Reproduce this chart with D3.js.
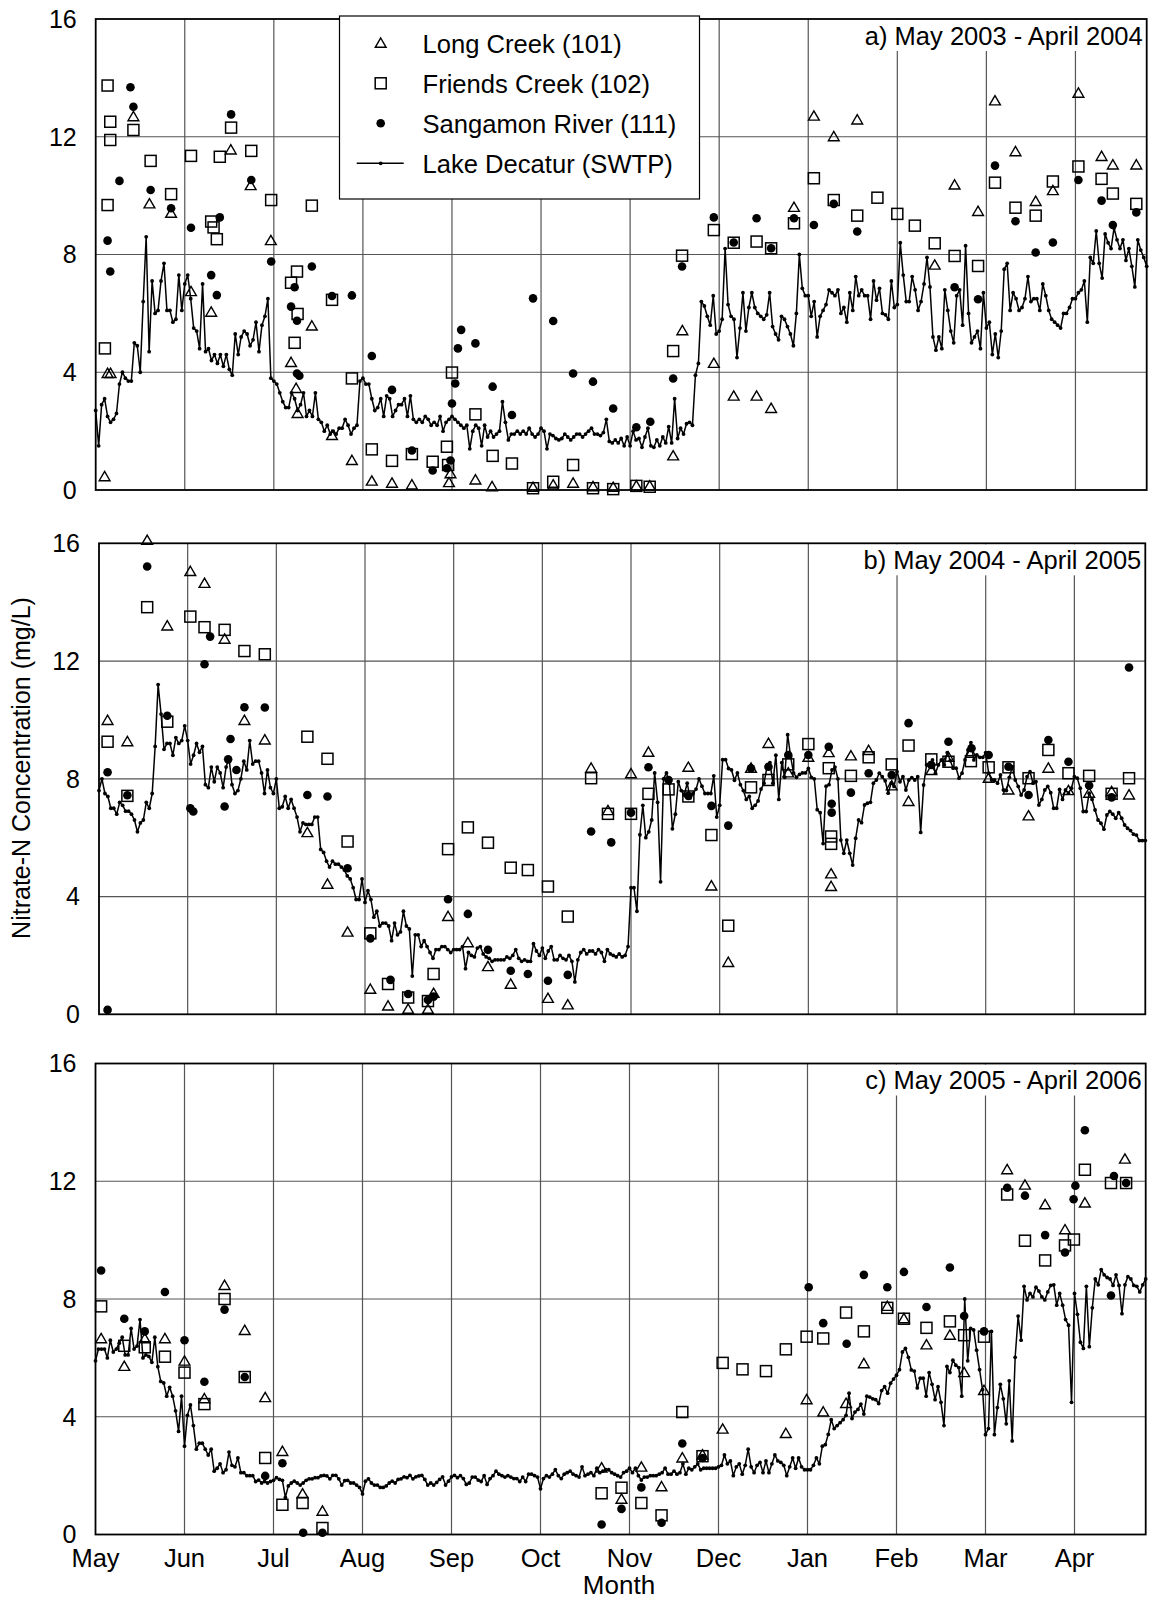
<!DOCTYPE html>
<html>
<head>
<meta charset="utf-8">
<script src="https://cdn.jsdelivr.net/npm/d3@7"></script>
<style>
body { margin: 0; background: #fff; }
text { font-family: "Liberation Sans", Arial, sans-serif; fill: #000; }
</style>
</head>
<body>
<div class="canva"></div>
<script>
// month labels, one gridline every 30 days from 1 May
const months = ['May','Jun','Jul','Aug','Sep','Oct','Nov','Dec','Jan','Feb','Mar','Apr'];
const yTicks = [0, 4, 8, 12, 16];
const titles = ['a) May 2003 - April 2004', 'b) May 2004 - April 2005', 'c) May 2005 - April 2006'];
const legendNames = ['Long Creek (101)', 'Friends Creek (102)', 'Sangamon River (111)', 'Lake Decatur (SWTP)'];

// Lake Decatur (SWTP), daily values from 1 May (index = day)
const lakeA = [
2.7,1.5,2.9,3.1,2.5,2.3,2.4,2.6,3.6,4.0,3.8,3.7,3.7,5.0,4.9,4.0,6.4,8.6,4.7,7.1,
6.0,6.1,7.1,7.7,6.1,6.1,5.7,5.8,7.3,6.1,7.0,7.3,6.5,5.5,5.4,4.8,7.0,4.7,4.8,4.4,
4.6,4.3,4.6,4.2,4.6,4.1,3.9,5.3,4.6,5.2,5.4,5.3,4.9,5.1,5.7,4.7,5.6,5.9,6.5,3.8,
3.7,3.6,3.3,3.0,2.8,2.8,3.3,3.1,2.7,2.9,3.3,2.5,2.7,2.5,3.3,2.4,2.3,2.0,2.2,1.9,
2.0,1.9,2.1,2.1,2.4,2.2,1.9,2.1,2.2,3.7,3.8,3.6,3.6,3.1,2.7,2.8,3.1,2.5,3.2,3.1,
2.5,2.7,2.9,2.9,3.1,2.5,3.2,2.4,2.3,2.4,2.3,2.5,2.4,2.2,2.3,2.2,2.5,2.0,2.3,2.4,
2.5,2.4,2.3,2.2,2.1,2.2,1.4,2.0,2.2,2.1,1.5,2.2,1.8,2.0,1.8,1.9,2.0,3.0,2.3,1.7,
1.9,1.9,2.0,1.9,2.0,1.9,2.1,1.9,1.8,1.9,2.1,2.0,1.4,1.9,1.85,1.75,1.7,1.75,1.9,1.8,
1.7,1.8,1.9,1.9,1.8,1.9,2.0,2.1,1.9,1.9,1.85,1.95,2.4,1.65,1.6,1.7,1.6,1.75,1.5,1.8,
1.5,2.0,1.7,1.75,1.45,1.8,2.1,1.5,1.45,1.7,1.5,1.8,1.6,2.15,1.6,3.1,1.75,2.1,1.9,2.25,
2.3,2.2,3.9,4.3,6.4,6.25,5.9,5.6,6.6,5.3,5.4,5.8,8.2,6.3,5.9,5.8,4.5,5.5,6.7,5.4,
6.2,6.7,6.2,6.0,5.9,5.8,5.95,6.7,5.55,5.3,5.1,5.9,5.8,5.55,5.3,4.9,6.0,
8.0,6.85,6.6,6.6,5.9,6.4,5.2,5.9,6.1,6.3,6.8,6.7,6.6,6.8,6.0,6.2,5.7,6.7,6.1,7.25,
6.6,6.8,6.6,6.6,5.8,7.1,6.45,6.85,6.0,5.95,5.8,7.1,6.2,6.3,8.4,7.3,6.4,6.4,7.25,6.8,
6.1,6.4,7.0,7.9,6.9,5.2,4.75,5.2,4.8,6.8,6.1,5.4,5.0,6.6,6.8,5.6,8.3,6.0,5.0,5.2,
5.4,4.8,6.7,5.5,5.7,4.6,5.3,4.5,5.4,7.5,7.7,6.1,6.7,6.5,6.1,6.2,6.5,7.25,6.4,6.5,
6.5,6.1,7.0,6.6,6.1,5.8,5.7,5.6,5.5,6.0,6.0,6.2,6.5,6.5,6.7,6.8,7.1,5.7,7.9,7.7,
8.8,7.7,7.2,8.7,8.4,8.2,8.9,8.5,8.2,8.5,7.8,8.2,7.6,6.9,8.5,8.15,7.9,7.6
];
const lakeB = [
7.6,8.0,7.5,7.4,7.0,7.0,6.8,7.2,7.1,6.9,6.9,6.8,6.6,6.2,6.5,6.6,7.2,7.0,7.5,9.1,
11.2,10.2,9.0,9.2,9.2,8.8,9.4,9.2,9.3,9.8,9.3,8.5,8.8,9.2,8.9,9.1,7.8,7.7,8.4,7.9,
8.4,8.2,7.7,8.4,8.7,7.8,7.5,7.6,8.0,8.6,8.3,9.3,8.5,8.6,8.6,8.2,7.5,8.3,7.7,7.5,
8.0,7.0,7.05,7.4,7.0,7.3,7.0,6.7,6.2,6.5,6.45,6.45,6.45,6.7,6.7,5.6,5.5,5.2,5.0,5.2,
5.1,5.1,5.0,4.9,4.7,4.6,4.3,3.9,3.9,4.6,3.8,4.2,3.9,3.3,3.5,3.0,3.1,3.1,3.0,2.5,
3.1,2.7,2.8,3.5,3.0,2.9,1.3,2.7,2.7,2.3,2.5,2.3,2.1,1.9,2.2,2.2,2.3,2.3,2.2,2.1,
2.2,2.2,2.2,2.3,1.55,2.1,2.0,1.95,2.25,2.3,2.05,1.95,1.9,1.8,1.85,1.85,1.85,1.85,1.95,1.9,
2.0,2.2,1.9,1.8,1.85,1.8,1.8,2.4,2.15,2.0,2.25,1.9,2.15,2.3,1.85,1.85,2.0,1.9,1.85,2.0,
1.8,1.1,1.85,2.1,2.2,2.05,2.15,2.15,2.05,2.2,2.1,1.8,2.2,2.05,2.0,1.95,2.05,1.95,2.0,2.3,
4.3,4.3,3.5,6.1,7.1,6.0,6.2,6.6,8.2,7.2,4.5,8.0,8.2,7.85,6.3,6.8,7.9,7.6,7.45,7.85,
7.35,7.5,7.65,8.0,7.75,7.5,7.5,7.5,8.1,6.7,7.1,8.65,8.65,8.35,8.3,7.95,8.2,7.8,7.6,7.3,
7.4,7.0,7.1,7.25,7.65,7.85,8.4,8.55,7.85,8.8,7.3,8.55,8.05,9.5,8.75,8.2,8.05,8.15,8.2,8.2,
8.35,8.05,8.0,6.95,6.85,5.8,7.75,7.8,8.3,8.4,8.0,
5.92,5.47,5.92,5.47,5.07,5.98,6.6,6.51,7.11,7.17,7.2,7.85,7.96,8.19,8.07,7.93,7.51,7.85,7.74,8.24,
7.9,8.07,7.62,7.96,8.04,7.96,8.07,6.18,7.79,8.47,8.53,8.64,8.19,8.47,8.64,8.47,8.89,8.62,8.36,8.36,
8.02,8.19,8.64,8.98,9.23,8.64,8.81,8.73,8.73,8.89,8.19,7.96,7.96,7.85,8.13,7.62,7.6,8.05,8.41,7.96,
7.74,7.45,7.62,8.07,8.24,7.85,7.9,7.11,7.3,7.62,7.74,7.53,7.0,7.0,7.64,7.3,7.62,7.51,7.68,8.07,
8.02,7.68,6.89,6.89,7.51,7.3,6.94,6.6,6.49,6.29,6.77,6.89,6.8,6.66,6.85,6.66,6.43,6.32,6.24,6.12,
6.09,5.9,5.9,5.9
];
const lakeC = [
5.9,6.3,6.3,6.3,6.0,6.6,6.2,6.3,6.5,6.7,6.1,6.1,7.0,6.3,6.4,7.3,6.0,6.1,6.05,5.85,
6.7,5.7,5.2,5.15,4.7,5.0,4.7,4.2,3.5,4.7,3.0,4.05,4.4,3.7,2.9,3.1,3.1,2.9,2.7,2.9,
2.15,2.25,2.4,2.1,2.2,2.8,2.35,2.3,2.6,2.1,2.1,2.0,2.0,2.0,1.8,1.85,1.75,1.8,1.75,1.8,
1.84,1.93,1.87,1.84,1.26,1.65,1.75,1.81,1.75,1.68,1.75,1.84,1.89,1.89,1.93,1.93,1.99,2.01,1.99,1.89,
2.01,2.01,1.89,1.68,1.83,1.84,1.75,1.75,1.68,1.6,1.38,1.81,1.89,1.75,1.68,1.68,1.6,1.6,1.65,1.75,
1.81,1.75,1.87,1.89,1.96,1.93,2.01,1.89,1.96,1.99,2.01,1.87,1.68,1.75,1.68,1.77,1.87,1.96,1.68,1.81,
1.96,2.01,1.93,
2.0,1.9,1.7,1.75,1.95,1.95,1.85,1.8,2.0,1.7,1.9,2.0,2.15,2.05,2.0,1.95,2.0,1.95,1.9,1.9,
1.8,1.95,1.8,2.05,2.05,2.0,1.95,1.55,1.9,2.0,1.95,2.05,2.2,2.0,1.9,2.05,2.1,2.15,2.05,2.0,
1.95,2.3,2.0,2.05,2.1,2.0,2.25,2.1,2.15,2.2,2.2,2.1,2.05,2.0,1.95,2.1,2.15,2.25,2.1,2.25,
2.0,1.85,1.95,1.95,2.0,2.0,2.0,2.05,2.1,2.25,2.05,2.05,2.15,2.05,2.1,2.4,2.05,2.25,2.2,2.3,
2.4,2.2,2.25,2.25,2.25,2.25,2.25,2.3,2.35,2.7,2.4,2.5,2.0,2.3,2.4,2.05,2.35,2.9,2.3,2.1,
2.35,2.45,2.1,2.5,2.1,2.4,2.7,2.5,2.45,2.35,2.0,2.3,2.6,2.25,2.6,2.3,2.2,2.2,2.2,2.35,
2.6,2.4,3.0,3.05,3.4,3.9,3.6,3.7,3.8,3.9,4.05,
4.8,3.94,4.16,4.25,4.43,4.09,4.7,4.67,4.61,4.58,4.45,4.89,5.02,4.8,5.14,5.28,5.41,5.6,6.2,6.32,
6.02,5.59,5.55,4.98,5.31,5.31,4.7,5.5,5.1,4.58,5.02,4.49,3.7,5.71,5.5,5.92,5.75,5.67,4.7,8.0,
5.9,7.0,6.95,6.26,5.6,4.92,3.39,3.6,6.9,3.39,4.31,5.1,4.61,3.76,5.22,3.18,6.02,7.42,6.6,8.43,
7.97,8.19,8.07,8.4,8.27,8.07,7.97,8.24,8.46,8.48,7.79,8.19,7.79,7.3,7.11,4.49,8.19,7.48,6.53,6.32,
8.43,6.38,7.7,8.68,8.48,9.0,8.82,8.73,8.68,8.46,8.82,8.46,7.5,8.48,8.76,8.68,8.46,8.43,8.24,8.48,
8.68
];

// grab samples [day from 1 May, mg/L]
const longA = [[3,0.45],[4,3.96],[5,3.96],[12.7,12.68],[18.1,9.72],[25.4,9.4],[32.1,6.74],[38.9,6.04],[45.5,11.55],[52.2,10.34],[59,8.47],[65.8,4.33],[67.5,3.45],[68,2.6],[72.8,5.57],[79.6,1.85],[86.3,1.0],[93,0.3],[99.8,0.23],[106.5,0.17],[119,0.25],[119.5,0.55],[127.9,0.34],[133.5,0.11],[147.3,0.09],[154.1,0.17],[160.8,0.23],[167.5,0.11],[174.3,0.09],[182.1,0.14],[186.6,0.14],[194.5,1.16],[197.6,5.41],[208.2,4.3],[214.9,3.19],[222.6,3.19],[227.5,2.77],[235.2,9.6],[241.9,12.7],[248.6,12.0],[256.5,12.57],[282.6,7.64],[289.3,10.36],[297.2,9.46],[302.9,13.22],[309.8,11.49],[316.6,9.8],[322.4,10.17],[331,13.48],[338.8,11.33],[342.6,11.04],[350.5,11.04]];
const friendsA = [[3.1,4.81],[4,9.68],[4,13.74],[4.9,12.51],[4.9,11.89],[12.7,12.23],[18.5,11.18],[25.4,10.05],[32.1,11.35],[38.9,9.12],[39.7,8.92],[40.8,8.52],[41.8,11.32],[45.6,12.31],[52.4,11.52],[59.1,9.85],[65.8,7.04],[67.8,7.42],[68,5.98],[67,5.0],[72.8,9.66],[79.6,6.46],[86.3,3.79],[93,1.38],[99.8,0.99],[106.5,1.22],[113.5,0.96],[118.3,1.47],[118.7,0.85],[120,3.99],[127.9,2.57],[133.7,1.16],[140.2,0.9],[147.3,0.06],[154.1,0.28],[160.8,0.85],[167.5,0.06],[174.3,0.03],[182.1,0.14],[186.6,0.11],[194.5,4.72],[197.5,7.96],[208.2,8.83],[214.9,8.4],[222.6,8.44],[227.5,8.21],[235.2,9.06],[241.9,10.59],[248.6,9.85],[256.5,9.32],[263.3,9.93],[270,9.38],[275.9,8.98],[282.6,8.38],[289.3,7.95],[297.2,7.61],[302.9,10.44],[309.8,9.59],[316.6,9.32],[322.4,10.48],[331,10.99],[338.8,10.57],[342.6,10.07],[350.5,9.72]];
const sangA = [[4,8.47],[4.9,7.42],[8,10.5],[11.7,13.68],[12.7,13.02],[18.5,10.19],[25.4,9.57],[32.1,8.91],[38.9,7.3],[40.8,6.62],[41.8,9.26],[45.6,12.76],[52.4,10.53],[59.1,7.76],[65.8,6.23],[67,6.89],[67.8,5.75],[67.8,3.96],[68.6,3.88],[72.8,7.59],[79.6,6.59],[86.3,6.61],[93,4.55],[99.8,3.4],[106.5,1.34],[113.5,0.66],[118.3,0.74],[119.5,1.0],[120,2.94],[121.1,3.62],[122,4.81],[123.1,5.44],[127.9,4.98],[133.7,3.51],[140.2,2.55],[147.3,6.51],[154.1,5.74],[160.8,3.96],[167.5,3.68],[174.3,2.77],[182.1,2.13],[186.8,2.32],[194.5,3.79],[197.5,7.59],[208.2,9.26],[214.9,8.41],[222.6,9.23],[227.5,8.21],[235.2,9.23],[241.9,9.0],[248.6,9.72],[256.5,8.78],[289.3,6.89],[297.2,6.48],[302.9,11.02],[309.8,9.13],[316.6,8.07],[322.4,8.41],[331,10.53],[338.8,9.83],[342.6,9.0],[350.5,9.43]];

const longB = [[2.9,9.98],[9.6,9.26],[16.3,16.1],[23.1,13.19],[30.9,15.04],[35.7,14.64],[42.5,12.74],[49.2,9.98],[56.1,9.32],[70.5,6.17],[77.3,4.42],[84.1,2.79],[91.8,0.85],[97.8,0.28],[104.6,0.17],[111.3,0.17],[113.2,0.71],[118.1,3.32],[124.8,2.43],[131.6,1.62],[139.3,1.02],[151.9,0.54],[158.6,0.32],[166.5,8.36],[172.2,6.92],[180,8.17],[185.9,8.9],[199.4,8.39],[207.2,4.36],[212.9,1.76],[220.6,8.36],[226.5,9.2],[233.2,8.2],[240,8.73],[246.9,8.89],[247.7,4.77],[247.7,4.34],[254.4,8.78],[260.4,8.96],[268.2,7.76],[273.9,7.23],[281.6,8.28],[287.4,8.73],[295,8.87],[301,8.02],[307.7,7.62],[314.5,6.74],[321.2,8.36],[328,7.6],[335,7.51],[342.6,7.56],[348.5,7.45]];
const friendsB = [[2.9,9.26],[9.6,7.42],[16.3,13.83],[23.1,9.94],[30.9,13.51],[35.7,13.15],[42.5,13.06],[49.2,12.34],[56.1,12.23],[70.5,9.43],[77.3,8.68],[84.1,5.87],[91.8,2.75],[97.8,1.03],[104.6,0.57],[111.3,0.45],[113.2,1.37],[118.1,5.61],[124.8,6.35],[131.6,5.83],[139.3,4.98],[145.1,4.9],[151.9,4.34],[158.6,3.32],[166.5,8.02],[172.2,6.81],[180,6.81],[185.9,7.49],[192.7,7.64],[199.4,7.4],[207.2,6.09],[212.9,3.01],[220.6,7.71],[226.5,7.96],[233.2,8.49],[240,9.18],[246.9,8.36],[247.7,6.04],[247.7,5.79],[254.4,8.1],[260.4,8.73],[268.2,8.49],[273.9,9.13],[281.6,8.66],[287.4,8.58],[295,8.6],[301,8.39],[307.7,8.39],[314.5,8.02],[321.2,8.98],[328,8.19],[335,8.1],[342.6,7.49],[348.5,8.02]];
const sangB = [[2.9,8.22],[2.9,0.15],[9.6,7.44],[16.3,15.21],[23.1,10.14],[30.9,7.0],[31.9,6.89],[35.7,11.89],[37.6,12.83],[42.5,7.06],[43.7,8.66],[44.5,9.35],[46.5,8.3],[49.2,10.43],[56.1,10.42],[70.5,7.45],[77.3,7.4],[84.1,4.96],[91.8,2.58],[98.6,1.17],[104.6,0.69],[111.3,0.49],[113.2,0.6],[118.1,3.91],[124.8,3.41],[131.6,2.19],[139.3,1.48],[145.1,1.37],[151.9,1.14],[158.6,1.34],[166.5,6.21],[173.3,5.84],[180,6.85],[185.9,8.39],[192.7,7.96],[199.4,7.42],[207.2,7.08],[212.9,6.41],[220.6,8.36],[226.5,8.41],[233.2,8.81],[240,8.81],[246.9,9.09],[247.9,7.15],[247.9,6.85],[254.4,7.53],[260.4,8.19],[268.2,8.13],[273.9,9.89],[281.6,8.47],[287.4,9.26],[295.2,9.04],[301,8.81],[307.7,8.41],[314.5,7.45],[321.2,9.32],[328,8.58],[335,7.77],[342.6,7.37],[348.5,11.78]];

const longC = [[1.9,6.65],[9.7,5.71],[16.6,6.65],[23.4,6.65],[30,5.89],[36.7,4.61],[43.5,8.46],[50.3,6.93],[57.2,4.65],[63,2.82],[69.8,1.38],[76.5,0.79],[170.6,2.26],[177.3,1.2],[184,2.29],[190.8,1.62],[197.8,2.6],[204.6,2.7],[211.4,3.58],[232.7,3.43],[239.7,4.58],[245.3,4.16],[253,4.45],[259,5.8],[266.9,7.75],[272.5,7.33],[280.1,6.44],[288,6.77],[292.8,5.5],[299.5,4.89],[307.3,12.39],[313.3,11.87],[320.1,11.2],[326.8,10.35],[333.5,11.26],[347,12.75]];
const friendsC = [[1.9,7.75],[9.7,6.41],[16.6,6.36],[23.4,6.04],[30,5.5],[36.7,4.43],[43.5,8.0],[50.3,5.35],[57.2,2.6],[63,1.01],[69.8,1.07],[76.5,0.22],[170.6,1.4],[177.3,1.59],[184,1.07],[190.8,0.65],[197.8,4.16],[204.6,2.66],[211.4,5.83],[218.1,5.61],[226,5.55],[232.7,6.29],[239.7,6.72],[245.3,6.66],[253,7.54],[259,6.9],[266.9,7.7],[272.5,7.33],[280.1,7.02],[288,7.24],[292.8,6.77],[299.5,6.72],[307.3,11.55],[313.3,9.98],[320.1,9.31],[326.8,9.82],[329.8,10.02],[333.5,12.39],[342.3,11.94],[347.4,11.94]];
const sangC = [[1.9,8.97],[9.7,7.33],[16.6,6.9],[23.4,8.24],[30,6.6],[36.7,5.19],[43.5,7.64],[50.3,5.35],[57.2,1.99],[63,2.42],[70,0.06],[76.5,0.06],[170.6,0.34],[177.3,0.87],[184,1.6],[190.8,0.4],[197.8,3.09],[204.6,2.6],[240.4,8.4],[245.3,7.18],[253.2,6.48],[259,8.82],[266.9,8.4],[272.5,8.92],[280.1,7.73],[288,9.07],[292.8,7.42],[299.5,6.9],[307.3,11.78],[313.3,11.51],[320.1,10.17],[326.8,9.58],[329.7,11.39],[330.3,11.85],[333.5,13.73],[342.3,8.12],[343.3,12.18],[347.4,11.94]];


const svg = d3.select('.canva').append('svg')
.attr('width', 1151)
.attr('height', 1602)
.style('background', '#fff');

const H = 471;          // plot height of each panel
const lastDay = 354;    // axis runs a little short of 30 April

const panels = [
  {top: 19,     left: 95.7, right: 1146.7, title: titles[0], lake: lakeA, long: longA, friends: friendsA, sang: sangA},
  {top: 543.3,  left: 99,   right: 1145.3, title: titles[1], lake: lakeB, long: longB, friends: friendsB, sang: sangB},
  {top: 1063.5, left: 95.5, right: 1145.7, title: titles[2], lake: lakeC, long: longC, friends: friendsC, sang: sangC}
];

const triPath = 'M0,-5.3L5.4,4L-5.4,4Z';

panels.forEach(function(p, k){
  const x = d3.scaleLinear().domain([0, lastDay]).range([p.left, p.right]);
  const y = d3.scaleLinear().domain([0, 16]).range([p.top + H, p.top]);
  const g = svg.append('g');

  // gridlines
  g.selectAll('line.h')
  .data(yTicks.slice(1, -1))
  .enter()
  .append('line')
  .attr('x1', p.left).attr('x2', p.right)
  .attr('y1', d => y(d)).attr('y2', d => y(d))
  .attr('stroke', '#555').attr('stroke-width', 1.2);

  g.selectAll('line.v')
  .data(d3.range(1, 12))
  .enter()
  .append('line')
  .attr('x1', d => x(d * 30)).attr('x2', d => x(d * 30))
  .attr('y1', p.top).attr('y2', p.top + H)
  .attr('stroke', '#555').attr('stroke-width', 1.2);

  // panel title on a white box
  const t = g.append('text')
  .attr('x', p.right - 4)
  .attr('y', p.top + 25.5)
  .attr('text-anchor', 'end')
  .attr('font-size', 25.5)
  .text(p.title);
  const tw = t.node().getComputedTextLength();
  g.insert('rect', 'text')
  .attr('x', p.right - 4 - tw - 4)
  .attr('y', p.top + 1)
  .attr('width', tw + 7)
  .attr('height', 31)
  .attr('fill', '#fff');

  // frame
  g.append('rect')
  .attr('x', p.left).attr('y', p.top)
  .attr('width', p.right - p.left).attr('height', H)
  .attr('fill', 'none')
  .attr('stroke', '#000')
  .attr('stroke-width', 1.8);

  // y tick labels
  g.selectAll('text.yt')
  .data(yTicks)
  .enter()
  .append('text')
  .attr('x', p.left - 19)
  .attr('y', d => y(d))
  .attr('dy', '0.35em')
  .attr('text-anchor', 'end')
  .attr('font-size', 25)
  .text(d => d);

  // Long Creek triangles
  g.selectAll('path.long')
  .data(p.long)
  .enter()
  .append('path')
  .attr('d', triPath)
  .attr('transform', d => 'translate(' + x(d[0]) + ',' + y(d[1]) + ')')
  .attr('fill', 'none')
  .attr('stroke', '#000')
  .attr('stroke-width', 1.4);

  // Friends Creek squares
  g.selectAll('rect.fr')
  .data(p.friends)
  .enter()
  .append('rect')
  .attr('x', d => x(d[0]) - 5.5)
  .attr('y', d => y(d[1]) - 5.5)
  .attr('width', 11).attr('height', 11)
  .attr('fill', 'none')
  .attr('stroke', '#000')
  .attr('stroke-width', 1.5);

  // Sangamon River dots
  g.selectAll('circle.sg')
  .data(p.sang)
  .enter()
  .append('circle')
  .attr('cx', d => x(d[0]))
  .attr('cy', d => y(d[1]))
  .attr('r', 4.3)
  .attr('fill', '#000');

  // Lake Decatur daily line
  const line = d3.line()
  .x((d, i) => x(i))
  .y(d => y(d));

  g.append('path')
  .datum(p.lake)
  .attr('d', line)
  .attr('fill', 'none')
  .attr('stroke', '#000')
  .attr('stroke-width', 1.5)
  .attr('stroke-linejoin', 'round');

  g.selectAll('circle.lk')
  .data(p.lake)
  .enter()
  .append('circle')
  .attr('cx', (d, i) => x(i))
  .attr('cy', d => y(d))
  .attr('r', 1.9)
  .attr('fill', '#000');

  // month labels under the last panel only
  if (k === 2) {
    g.selectAll('text.mo')
    .data(months)
    .enter()
    .append('text')
    .attr('x', (d, i) => x(i * 30))
    .attr('y', p.top + H + 32.5)
    .attr('text-anchor', 'middle')
    .attr('font-size', 25.5)
    .text(d => d);

    g.append('text')
    .attr('x', 619)
    .attr('y', 1594)
    .attr('text-anchor', 'middle')
    .attr('font-size', 26)
    .text('Month');
  }
});

// y axis title
svg.append('text')
.attr('transform', 'translate(30,768) rotate(-90)')
.attr('text-anchor', 'middle')
.attr('font-size', 25)
.text('Nitrate-N Concentration (mg/L)');

// legend
const leg = svg.append('g');
leg.append('rect')
.attr('x', 339.5).attr('y', 16)
.attr('width', 360).attr('height', 183)
.attr('fill', '#fff')
.attr('stroke', '#000')
.attr('stroke-width', 1.2);

const rowY = [43.3, 83.3, 123.3, 163.3];
const symX = 380.7;

leg.append('path')
.attr('d', triPath)
.attr('transform', 'translate(' + symX + ',' + rowY[0] + ')')
.attr('fill', 'none').attr('stroke', '#000').attr('stroke-width', 1.4);

leg.append('rect')
.attr('x', symX - 5.5).attr('y', rowY[1] - 5.5)
.attr('width', 11).attr('height', 11)
.attr('fill', 'none').attr('stroke', '#000').attr('stroke-width', 1.5);

leg.append('circle')
.attr('cx', symX).attr('cy', rowY[2]).attr('r', 4.3)
.attr('fill', '#000');

leg.append('line')
.attr('x1', symX - 24).attr('x2', symX + 23)
.attr('y1', rowY[3]).attr('y2', rowY[3])
.attr('stroke', '#000').attr('stroke-width', 1.5);
leg.append('circle')
.attr('cx', symX).attr('cy', rowY[3]).attr('r', 1.9)
.attr('fill', '#000');

leg.selectAll('text')
.data(legendNames)
.enter()
.append('text')
.attr('x', 422.5)
.attr('y', (d, i) => rowY[i])
.attr('dy', '0.36em')
.attr('font-size', 25.6)
.text(d => d);
</script>
</body>
</html>
